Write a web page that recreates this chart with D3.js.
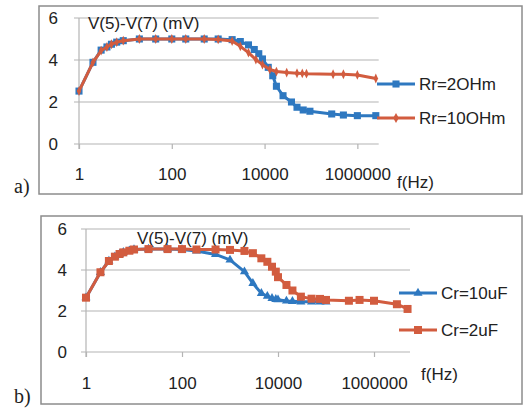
<!DOCTYPE html>
<html><head><meta charset="utf-8">
<script src="https://cdn.jsdelivr.net/npm/d3@7"></script>
<style>
html,body{margin:0;padding:0;background:#fff;}
svg text{font-family:"Liberation Sans",Arial,sans-serif;fill:#222;}
</style></head>
<body><svg id="c" width="524" height="410"></svg>
<script>
// ---- data ----
const xTicks = [1, 100, 10000, 1000000];
const yTicks = [0, 2, 4, 6];
const titleText = "V(5)-V(7) (mV)";
const xLabel = "f(Hz)";

// chart a)
const fA_r2 = [1,2,3,4,5,6.5,9,20,45,100,200,500,1000,2000,3000,4500,6000,7500,9000,12000,15000,18000,25000,38000,50000,68000,95000,280000,500000,1000000,2500000];
const vA_r2 = [2.52,3.89,4.47,4.62,4.75,4.85,4.92,5.0,5.0,5.0,5.0,5.0,5.0,4.97,4.88,4.72,4.5,4.3,4.05,3.65,3.25,2.75,2.3,2.0,1.75,1.62,1.56,1.43,1.38,1.35,1.35];
const fA_r10 = [1,2,3,4,5,6.5,9,20,45,100,200,500,1000,2000,3000,4500,6500,9000,13000,18000,30000,50000,65000,80000,300000,500000,1000000,2500000];
const vA_r10 = [2.52,3.89,4.45,4.62,4.75,4.85,4.92,5.0,5.0,5.0,5.0,5.0,4.98,4.9,4.65,4.35,4.02,3.78,3.55,3.45,3.4,3.37,3.36,3.35,3.32,3.32,3.29,3.12];
const seriesA = ["Rr=2OHm", "Rr=10OHm"];

// chart b)
const fB_c10 = [1,2,3,4,5,6,8,10,20,50,100,200,500,1000,2000,3000,4500,6000,7500,9000,10000,15000,20000,30000,50000,75000,100000];
const vB_c10 = [2.65,3.89,4.44,4.65,4.78,4.86,4.94,5.0,5.02,5.02,5.0,4.93,4.76,4.49,3.92,3.35,2.86,2.72,2.62,2.57,2.55,2.49,2.47,2.45,2.45,2.45,2.45];
const fB_c2 = [1,2,3,4,5,6,8,10,20,50,100,200,500,1000,2000,3000,4500,6000,7500,9000,10000,15000,20000,30000,50000,75000,100000,300000,500000,1000000,3000000,5000000];
const vB_c2 = [2.65,3.89,4.44,4.65,4.78,4.86,4.94,5.0,5.02,5.02,5.02,5.0,5.0,4.98,4.93,4.82,4.57,4.4,4.16,3.92,3.65,3.27,3.0,2.7,2.6,2.59,2.54,2.5,2.54,2.5,2.33,2.1];
const seriesB = ["Cr=10uF", "Cr=2uF"];

const BLUE = "#2E78C0", RED = "#D25C3F";

const svg = d3.select("#c");

function panel(cfg){
  const g = svg.append("g");
  // frame
  g.append("rect").attr("x",cfg.box[0]).attr("y",cfg.box[1])
    .attr("width",cfg.box[2]-cfg.box[0]).attr("height",cfg.box[3]-cfg.box[1])
    .attr("fill","none").attr("stroke","#8c8c8c").attr("stroke-width",1.5);
  const x = d3.scaleLog().domain([1, Math.pow(10, cfg.xmaxLog)]).range([cfg.x0, cfg.x1]);
  const y = d3.scaleLinear().domain([0,6]).range([cfg.y0, cfg.y1]);
  // gridlines
  g.selectAll(".grid").data(yTicks).enter().append("line")
    .attr("x1", cfg.x0-5).attr("x2", cfg.x1).attr("y1", d=>y(d)).attr("y2", d=>y(d))
    .attr("stroke", "#b4b4b4").attr("stroke-width", 1.2);
  // y axis line
  g.append("line").attr("x1",cfg.x0).attr("x2",cfg.x0).attr("y1",y(6)).attr("y2",y(0)+5)
    .attr("stroke","#b4b4b4").attr("stroke-width",1.2);
  // x axis (ticks + labels)
  const xa = g.append("g").attr("transform",`translate(0,${y(0)})`)
    .call(d3.axisBottom(x).tickValues(xTicks).tickFormat(d3.format("d")).tickSize(5).tickSizeOuter(0).tickPadding(cfg.xPad));
  xa.select(".domain").remove();
  xa.selectAll("line").attr("stroke","#b4b4b4").attr("stroke-width",1.2);
  xa.selectAll("text").style("font-size","17px").attr("fill","#222");
  // y labels
  const ya = g.append("g").attr("transform",`translate(${cfg.x0},0)`)
    .call(d3.axisLeft(y).tickValues(yTicks).tickFormat(d3.format("d")).tickSize(0).tickPadding(cfg.yPad));
  ya.select(".domain").remove();
  ya.selectAll("text").style("font-size","17px").attr("fill","#222");
  // title + axis name
  g.append("text").attr("x",cfg.title[0]).attr("y",cfg.title[1]).style("font-size","17px").text(titleText);
  g.append("text").attr("x",cfg.fhz[0]).attr("y",cfg.fhz[1]).style("font-size","17px").text(xLabel);
  // panel label
  g.append("text").attr("x",cfg.lab[0]).attr("y",cfg.lab[1])
    .style("font-family","'Liberation Serif','Times New Roman',serif").style("font-size","20px").text(cfg.labText);

  const line = d3.line().x(d=>x(d[0])).y(d=>y(d[1]));
  cfg.series.forEach((s,i)=>{
    const pts = s.f.map((f,j)=>[f, s.v[j]]);
    g.append("path").datum(pts).attr("d",line).attr("fill","none")
      .attr("stroke",s.color).attr("stroke-width",3).attr("stroke-linejoin","round");
    const sym = d3.symbol().type(s.sym).size(s.size);
    g.selectAll(null).data(pts).enter().append("path")
      .attr("d",sym).attr("transform",d=>`translate(${x(d[0])},${y(d[1])})${s.sym===d3.symbolDiamond?" scale(0.8,1)":""}`)
      .attr("fill",s.color);
    // legend
    const ly = cfg.legY[i];
    g.append("line").attr("x1",cfg.legX).attr("x2",cfg.legX+38).attr("y1",ly).attr("y2",ly)
      .attr("stroke",s.color).attr("stroke-width",3);
    g.append("path").attr("d",sym).attr("transform",`translate(${cfg.legX+19},${ly})`).attr("fill",s.color);
    g.append("text").attr("x",cfg.legX+42).attr("y",ly+6).style("font-size","17px").text(s.name);
  });
}

panel({
  box:[39,6,522,194], x0:79, x1:378.7, xmaxLog:6.46, y0:144, y1:18,
  xPad:19, yPad:21, title:[88,29], fhz:[397,188], lab:[14,193], labText:"a)",
  legX:377, legY:[84,118],
  series:[
    {f:fA_r2, v:vA_r2, color:BLUE, sym:d3.symbolSquare, size:50, name:seriesA[0]},
    {f:fA_r10, v:vA_r10, color:RED, sym:d3.symbolDiamond, size:28, name:seriesA[1]}
  ]
});
panel({
  box:[41,216,522,404], x0:86, x1:410, xmaxLog:6.75, y0:352, y1:229,
  xPad:20, yPad:19, title:[137,244], fhz:[421,380], lab:[14,403], labText:"b)",
  legX:399, legY:[293,330],
  series:[
    {f:fB_c10, v:vB_c10, color:BLUE, sym:d3.symbolTriangle, size:36, name:seriesB[0]},
    {f:fB_c2, v:vB_c2, color:RED, sym:d3.symbolSquare, size:64, name:seriesB[1]}
  ]
});
</script></body></html>
